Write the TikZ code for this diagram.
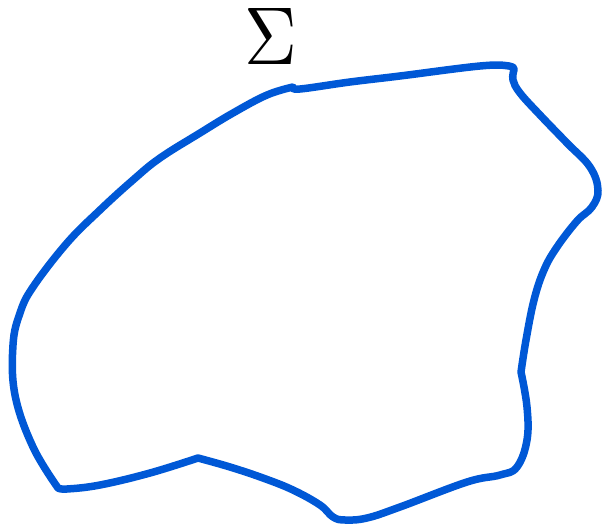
\documentclass[tikz,border=0pt]{standalone}
\definecolor{curveblue}{RGB}{0,88,214}
\begin{document}
\begin{tikzpicture}[x=1pt,y=-1pt,
  boundary/.style={draw=curveblue,line width=7.5pt,line join=round,line cap=round},
  siglabel/.style={inner sep=0pt,xscale=7.3,yscale=8.2,transform shape}]
\useasboundingbox (0,0) rectangle (602,529);
\node[siglabel] (sigma) at (271,36) {$\Sigma$};
\draw[boundary]
  plot[smooth,tension=0.65] coordinates {(58,488) (67,489) (100,485) (150,473) (198,458)}
  -- plot[smooth,tension=0.65] coordinates {(198,458) (230,467) (263,478) (293,490) (320,505) (333,517) (345,520) (367,518) (400,507) (467,482) (500,475) (517,467) (527,440) (527,407) (521,372)}
  -- plot[smooth,tension=0.65] coordinates {(521,372) (526,340) (534,300) (544,270) (557,247) (577,221) (592,207) (598,190) (590,167) (567,143) (540,115) (520,93) (513,80) (514,70)}
  -- plot[smooth,tension=0.65] coordinates {(514,70) (509,66) (480,66) (400,76) (350,82) (300,89) (293,87)}
  -- plot[smooth,tension=0.65] coordinates {(293,87) (267,95) (233,113) (200,133) (160,158) (133,180) (100,210) (67,243) (33,287) (20,313) (13,345) (15,395) (33,447) (58,488)}
  -- cycle;
\end{tikzpicture}
\end{document}
